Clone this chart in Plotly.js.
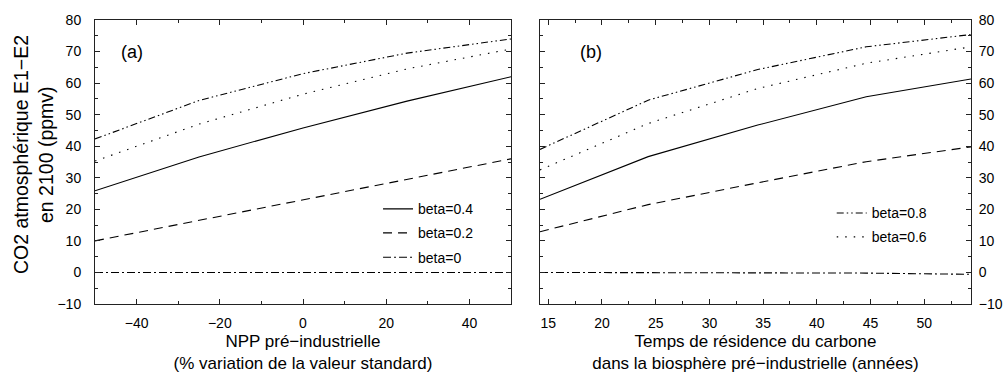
<!DOCTYPE html>
<html>
<head>
<meta charset="utf-8">
<script src="https://cdn.plot.ly/plotly-3.0.1.min.js"></script>
<style>html,body{margin:0;padding:0;background:#fff;}#chart{width:1004px;height:373px;}</style>
</head>
<body>
<div id="chart"></div>
<script>
// Panel (a): NPP pré-industrielle (% variation)
const nppX = [-50, -25, 0, 25, 50];
const aBeta08 = [42.3, 54.5, 63.0, 69.5, 74.0];
const aBeta06 = [35.3, 47.0, 56.5, 64.5, 70.8];
const aBeta04 = [25.9, 36.6, 45.8, 54.3, 62.0];
const aBeta02 = [10.0, 16.5, 23.0, 29.5, 36.0];
const aBeta00 = [0, 0, 0, 0, 0];

// Panel (b): Temps de résidence du carbone (années)
const resX = [14.23, 24.3, 34.5, 44.6, 54.35];
const bBeta08 = [39.0, 54.6, 64.3, 71.5, 75.4];
const bBeta06 = [32.5, 47.2, 58.3, 66.3, 71.5];
const bBeta04 = [23.2, 36.7, 46.7, 55.7, 61.3];
const bBeta02 = [12.9, 21.5, 28.4, 35.1, 39.8];
const bBeta00 = [0, 0, 0, -0.2, -0.6];

const seriesNames = ['beta=0.4', 'beta=0.2', 'beta=0', 'beta=0.8', 'beta=0.6'];
const yTitleLines = ['CO2 atmosphérique E1−E2', 'en 2100 (ppmv)'];
const panelLabels = ['(a)', '(b)'];

const styles = {
  'beta=0.4': {dash: 'solid', legend: 'legend'},
  'beta=0.2': {dash: '9px,6px', legend: 'legend2'},
  'beta=0':   {dash: '8px,3px,2px,3px', legend: 'legend3'},
  'beta=0.8': {dash: '7px,3px,1.5px,3px,1.5px,3px', legend: 'legend4'},
  'beta=0.6': {dash: '1.5px,7px', legend: 'legend5'}
};

const aData = {'beta=0.4': aBeta04, 'beta=0.2': aBeta02, 'beta=0': aBeta00, 'beta=0.8': aBeta08, 'beta=0.6': aBeta06};
const bData = {'beta=0.4': bBeta04, 'beta=0.2': bBeta02, 'beta=0': bBeta00, 'beta=0.8': bBeta08, 'beta=0.6': bBeta06};

const traces = [];
seriesNames.forEach(name => {
  const s = styles[name];
  traces.push({
    x: nppX, y: aData[name], type: 'scatter', mode: 'lines', name: name,
    xaxis: 'x', yaxis: 'y', legend: s.legend, showlegend: true,
    line: {color: '#000', width: 1.1, dash: s.dash}
  });
  traces.push({
    x: resX, y: bData[name], type: 'scatter', mode: 'lines', name: name,
    xaxis: 'x2', yaxis: 'y2', showlegend: false,
    line: {color: '#000', width: 1.1, dash: s.dash}
  });
});

const FONT = 'Liberation Sans, Arial, Helvetica, sans-serif';
const axisCommon = {
  showline: true, linecolor: '#222', linewidth: 1, mirror: 'allticks',
  ticks: 'inside', ticklen: 5, tickcolor: '#222', tickwidth: 1,
  showgrid: false, zeroline: false,
  tickfont: {family: FONT, size: 14, color: '#000'}
};

function legendAt(x, y) {
  return {x: x, y: y, xanchor: 'left', yanchor: 'middle', bgcolor: 'rgba(0,0,0,0)',
    borderwidth: 0, font: {family: FONT, size: 14, color: '#000'}};
}

const layout = {
  width: 1004, height: 373,
  margin: {l: 95, r: 33, t: 20, b: 69},
  paper_bgcolor: '#fff', plot_bgcolor: '#fff',
  font: {family: FONT, color: '#000'},
  xaxis: Object.assign({}, axisCommon, {
    domain: [0, 0.4749], range: [-50, 50], tick0: 0, dtick: 20,
    minor: {dtick: 10, ticks: 'inside', ticklen: 3, tickcolor: '#222', showgrid: false},
    ticklabelstandoff: 6,
    title: {text: 'NPP pré−industrielle<br>(% variation de la valeur standard)', font: {family: FONT, size: 17, color: '#000'}, standoff: 5}
  }),
  yaxis: Object.assign({}, axisCommon, {
    anchor: 'x', range: [-10, 80], tick0: 0, dtick: 10,
    minor: {dtick: 5, ticks: 'inside', ticklen: 3, tickcolor: '#222', showgrid: false},
    ticklabelstandoff: 10
  }),
  xaxis2: Object.assign({}, axisCommon, {
    domain: [0.508, 1], anchor: 'y2', range: [14.23, 54.35], tick0: 0, dtick: 5,
    minor: {dtick: 2.5, ticks: 'inside', ticklen: 3, tickcolor: '#222', showgrid: false},
    ticklabelstandoff: 6,
    title: {text: 'Temps de résidence du carbone<br>dans la biosphère pré−industrielle (années)', font: {family: FONT, size: 17, color: '#000'}, standoff: 5}
  }),
  yaxis2: Object.assign({}, axisCommon, {
    anchor: 'x2', side: 'right', range: [-10, 80], tick0: 0, dtick: 10,
    minor: {dtick: 5, ticks: 'inside', ticklen: 3, tickcolor: '#222', showgrid: false},
    ticklabelstandoff: 4
  }),
  legend: legendAt(0.3231, 0.3335),
  legend2: legendAt(0.3231, 0.249),
  legend3: legendAt(0.3231, 0.163),
  legend4: legendAt(0.8410, 0.319),
  legend5: legendAt(0.8410, 0.235),
  annotations: [
    {text: panelLabels[0], xref: 'paper', yref: 'paper', x: (132 - 95) / 876, y: (304 - 52) / 284, xanchor: 'center', yanchor: 'middle', showarrow: false, font: {family: FONT, size: 18, color: '#000'}},
    {text: panelLabels[1], xref: 'paper', yref: 'paper', x: (591 - 95) / 876, y: (304 - 52) / 284, xanchor: 'center', yanchor: 'middle', showarrow: false, font: {family: FONT, size: 18, color: '#000'}},
    {text: yTitleLines[0], xref: 'paper', yref: 'paper', x: (21 - 95) / 876, y: (304 - 155) / 284, xanchor: 'center', yanchor: 'middle', textangle: -90, showarrow: false, font: {family: FONT, size: 19.5, color: '#000'}},
    {text: yTitleLines[1], xref: 'paper', yref: 'paper', x: (46 - 95) / 876, y: (304 - 155) / 284, xanchor: 'center', yanchor: 'middle', textangle: -90, showarrow: false, font: {family: FONT, size: 19.5, color: '#000'}}
  ]
};

Plotly.newPlot('chart', traces, layout, {displayModeBar: false, staticPlot: true});
</script>
</body>
</html>
